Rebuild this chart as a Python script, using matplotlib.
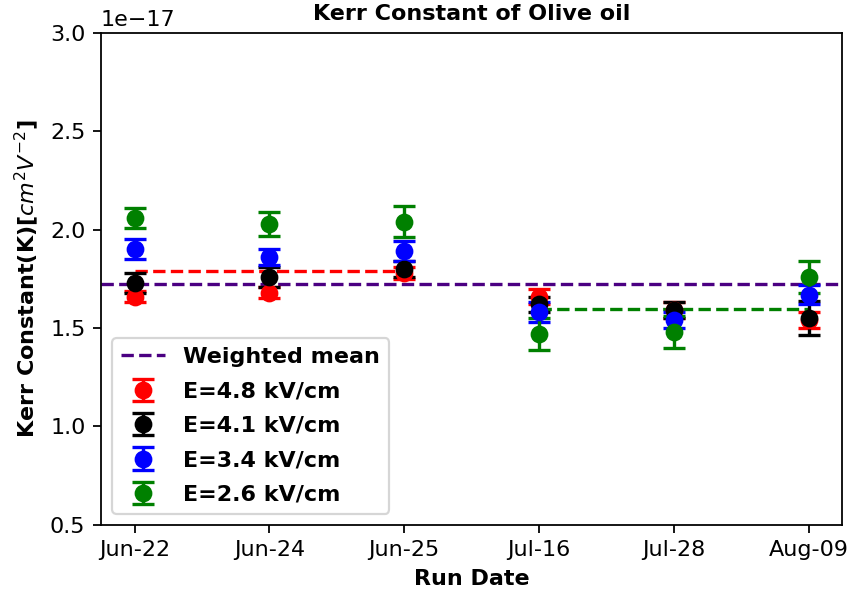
import numpy as np
import matplotlib.pyplot as plt

run_dates = ['Jun-22', 'Jun-24', 'Jun-25', 'Jul-16', 'Jul-28', 'Aug-09']

# Kerr constant per run, in units of 1e-17 cm^2 V^-2
k_48 = [1.66, 1.68, 1.78, 1.66, 1.59, 1.54]
k_48_err = [0.03, 0.03, 0.03, 0.04, 0.04, 0.04]
k_41 = [1.73, 1.76, 1.80, 1.62, 1.59, 1.55]
k_41_err = [0.05, 0.05, 0.04, 0.04, 0.04, 0.085]
k_34 = [1.90, 1.86, 1.89, 1.58, 1.54, 1.67]
k_34_err = [0.05, 0.04, 0.05, 0.05, 0.04, 0.05]
k_26 = [2.06, 2.03, 2.04, 1.47, 1.48, 1.76]
k_26_err = [0.05, 0.06, 0.08, 0.08, 0.08, 0.08]

weighted_mean = 1.725
june_mean = 1.79
july_aug_mean = 1.595

series = [
    ('E=4.8 kV/cm', 'red', k_48, k_48_err),
    ('E=4.1 kV/cm', 'black', k_41, k_41_err),
    ('E=3.4 kV/cm', 'blue', k_34, k_34_err),
    ('E=2.6 kV/cm', 'green', k_26, k_26_err),
]

scale = 1e-17
x = np.arange(len(run_dates))

fig, ax = plt.subplots(figsize=(849 / 160, 597 / 160), dpi=160)
fig.subplots_adjust(left=0.119, right=0.992, top=0.945, bottom=0.121)

ax.axhline(weighted_mean * scale, color='indigo', linestyle='--', lw=1.5, label='Weighted mean')
ax.plot([x[0], x[2]], [june_mean * scale] * 2, color='red', linestyle='--', lw=1.5)
ax.plot([x[3], x[5]], [july_aug_mean * scale] * 2, color='green', linestyle='--', lw=1.5)

for label, color, vals, errs in series:
    ax.errorbar(x, np.array(vals) * scale, yerr=np.array(errs) * scale, fmt='o',
                color=color, markersize=7, capsize=5, capthick=1.5, label=label)

ax.set_xticks(x)
ax.set_xticklabels(run_dates)
ax.set_ylim(0.5e-17, 3.0e-17)
ax.set_xlim(-0.25, 5.25)
ax.set_title('Kerr Constant of Olive oil', fontweight='bold', fontsize=10)
ax.set_xlabel('Run Date', fontweight='bold')
ax.set_ylabel(r'Kerr Constant(K)[$cm^2V^{-2}$]', fontweight='bold')
ax.legend(loc='lower left', prop={'weight': 'bold'}, labelspacing=0.65)

fig.savefig('out.png', dpi=160)
